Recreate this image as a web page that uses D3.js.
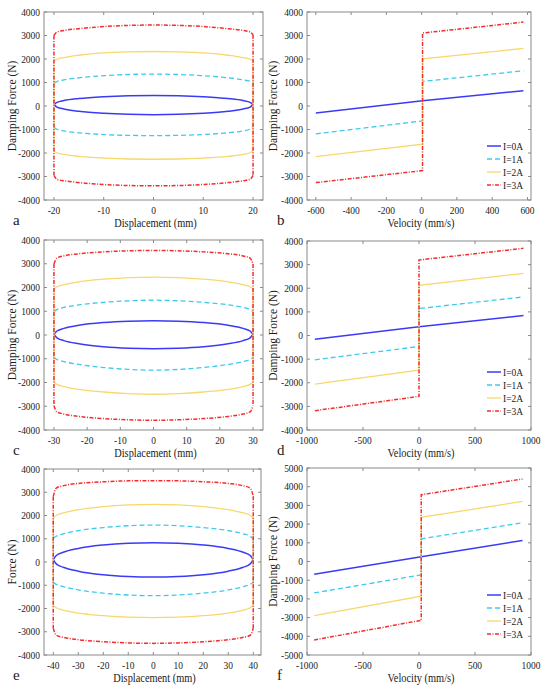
<!DOCTYPE html>
<html>
<head>
<meta charset="utf-8">
<script src="https://d3js.org/d3.v7.min.js"></script>
<style>
  body{margin:0;background:#fff;}
  svg text{font-family:"Liberation Serif","Times New Roman",serif;fill:#1a1a1a;}
</style>
</head>
<body>
<script>
// ---- data ----
var currents = ['I=0A', 'I=1A', 'I=2A', 'I=3A'];

var forceTicks = [-4000, -3000, -2000, -1000, 0, 1000, 2000, 3000, 4000];
var forceTicksF = [-5000, -4000, -3000, -2000, -1000, 0, 1000, 2000, 3000, 4000, 5000];
var dispTicksA = [-20, -10, 0, 10, 20];
var dispTicksC = [-30, -20, -10, 0, 10, 20, 30];
var dispTicksE = [-40, -30, -20, -10, 0, 10, 20, 30, 40];
var velTicksB = [-600, -400, -200, 0, 200, 400, 600];
var velTicksD = [-1000, -500, 0, 500, 1000];

// panel a : 20 mm amplitude
var dispA = [-20, -19.4, -18, -15, -10, -5, 0, 5, 10, 15, 18, 19.4, 20];
var upA = [
  [60, 155, 230, 318, 398, 438, 450, 438, 398, 318, 230, 155, 60],
  [975, 1040, 1110, 1200, 1290, 1340, 1357, 1340, 1290, 1200, 1110, 1050, 1000],
  [1925, 1990, 2060, 2160, 2260, 2305, 2320, 2305, 2260, 2160, 2060, 1990, 1925],
  [3000, 3150, 3215, 3290, 3380, 3430, 3445, 3430, 3380, 3290, 3215, 3150, 3030]
];
var lowA = [
  [60, -45, -127, -224, -312, -356, -370, -356, -312, -224, -127, -45, 60],
  [-920, -990, -1060, -1140, -1215, -1250, -1260, -1250, -1215, -1140, -1060, -980, -870],
  [-1930, -1990, -2060, -2140, -2215, -2255, -2265, -2255, -2215, -2140, -2060, -1990, -1890],
  [-2950, -3120, -3180, -3260, -3340, -3385, -3395, -3385, -3340, -3260, -3180, -3120, -2950]
];

// panel c : 30 mm amplitude
var dispC = [-30, -29.1, -27, -22.5, -15, -7.5, 0, 7.5, 15, 22.5, 27, 29.1, 30];
var upC = [
  [30, 169, 278, 407, 524, 582, 600, 582, 524, 407, 278, 169, 30],
  [985, 1070, 1160, 1270, 1375, 1440, 1465, 1440, 1375, 1270, 1160, 1070, 985],
  [1945, 2030, 2120, 2240, 2350, 2415, 2436, 2415, 2350, 2240, 2120, 2030, 1945],
  [2990, 3240, 3330, 3420, 3500, 3545, 3560, 3545, 3500, 3420, 3330, 3240, 2990]
];
var lowC = [
  [30, -118, -236, -373, -498, -560, -580, -560, -498, -373, -236, -118, 30],
  [-945, -1030, -1120, -1240, -1370, -1450, -1480, -1450, -1370, -1240, -1120, -1030, -945],
  [-1990, -2080, -2170, -2290, -2400, -2470, -2495, -2470, -2400, -2290, -2170, -2080, -1990],
  [-2980, -3240, -3330, -3430, -3520, -3570, -3590, -3570, -3520, -3430, -3330, -3240, -2980]
];

// panel e : 40 mm amplitude
var dispE = [-40, -38.8, -36, -30, -20, -10, 0, 10, 20, 30, 36, 38.8, 40];
var upE = [
  [100, 277, 418, 583, 732, 807, 830, 807, 732, 583, 418, 277, 100],
  [1018, 1110, 1210, 1350, 1480, 1560, 1590, 1560, 1480, 1350, 1210, 1110, 1000],
  [1907, 2000, 2110, 2250, 2380, 2455, 2480, 2455, 2380, 2250, 2110, 2000, 1880],
  [2810, 3180, 3280, 3380, 3450, 3490, 3500, 3490, 3450, 3380, 3280, 3180, 2830]
];
var lowE = [
  [100, -82, -227, -396, -550, -626, -650, -626, -550, -396, -227, -82, 100],
  [-875, -960, -1060, -1200, -1340, -1420, -1450, -1420, -1340, -1200, -1060, -960, -880],
  [-1880, -1970, -2070, -2200, -2310, -2375, -2395, -2375, -2310, -2200, -2070, -1970, -1860],
  [-2850, -3150, -3240, -3340, -3430, -3480, -3500, -3480, -3430, -3340, -3240, -3150, -2850]
];

// right column: velocity break points (start, jump, jump, end) and forces
var velB = [-600, 5, 5, 577];
var forceB = [
  [-300, 220, 220, 650],
  [-1186, -633, 1044, 1499],
  [-2152, -1626, 2010, 2450],
  [-3260, -2749, 3105, 3570]
];
var velD = [-930, 0, 0, 933];
var forceD = [
  [-155, 366, 366, 845],
  [-1028, -465, 1141, 1634],
  [-2056, -1465, 2127, 2634],
  [-3183, -2577, 3197, 3690]
];
var velF = [-936, 20, 20, 924];
var forceF = [
  [-679, 250, 250, 1125],
  [-1679, -714, 1214, 2071],
  [-2893, -1857, 2357, 3214],
  [-4196, -3143, 3571, 4411]
];

// ---- styles ----
var colors = ['#3b3bf6', '#3ccbef', '#f7d86c', '#f52c2c'];
var dashes = [null, '5,3', null, '4,1.5,1,1.5'];
var widths = [1.5, 1.3, 1.3, 1.5];

var svg = d3.select('body').append('svg')
  .attr('width', 550).attr('height', 685);

// text squeezed a little horizontally, like the figure
function label(g, x, y, str, size, anchor) {
  return g.append('text')
    .attr('transform', 'translate(' + x + ',' + y + ') scale(0.9,1)')
    .attr('text-anchor', anchor)
    .style('font-size', size + 'px')
    .text(str);
}

var panels = [
  {letter: 'a', box: [44, 12, 263, 200], xd: [-22, 22], yd: [-4000, 4000], xt: dispTicksA, yt: forceTicks,
   xl: 'Displacement (mm)', yl: 'Damping Force (N)', kind: 'loop', xs: dispA, up: upA, low: lowA},
  {letter: 'b', box: [307, 12, 531, 200], xd: [-650, 620], yd: [-4000, 4000], xt: velTicksB, yt: forceTicks,
   xl: 'Velocity (mm/s)', yl: 'Damping Force (N)', kind: 'vel', xs: velB, f: forceB, leg: 146},
  {letter: 'c', box: [44, 240, 263, 430], xd: [-33, 33], yd: [-4000, 4000], xt: dispTicksC, yt: forceTicks,
   xl: 'Displacement (mm)', yl: 'Damping Force (N)', kind: 'loop', xs: dispC, up: upC, low: lowC},
  {letter: 'd', box: [307, 241, 531, 430], xd: [-1000, 1000], yd: [-4000, 4000], xt: velTicksD, yt: forceTicks,
   xl: 'Velocity (mm/s)', yl: 'Damping Force (N)', kind: 'vel', xs: velD, f: forceD, leg: 372},
  {letter: 'e', box: [44, 469, 261, 655], xd: [-43.7, 43.1], yd: [-4000, 4000], xt: dispTicksE, yt: forceTicks,
   xl: 'Displacement (mm)', yl: 'Force (N)', kind: 'loop', xs: dispE, up: upE, low: lowE},
  {letter: 'f', box: [307, 468, 531, 655], xd: [-1000, 1000], yd: [-5000, 5000], xt: velTicksD, yt: forceTicksF,
   xl: 'Velocity (mm/s)', yl: 'Damping Force (N)', kind: 'vel', xs: velF, f: forceF, leg: 595}
];

panels.forEach(function(p) {
  var x0 = p.box[0], y0 = p.box[1], x1 = p.box[2], y1 = p.box[3];
  var x = d3.scaleLinear().domain(p.xd).range([x0, x1]);
  var y = d3.scaleLinear().domain(p.yd).range([y1, y0]);
  var g = svg.append('g');

  // curves
  var mono = d3.line().x(function(d) { return x(d[0]); }).y(function(d) { return y(d[1]); }).curve(d3.curveMonotoneX);
  var straight = d3.line().x(function(d) { return x(d[0]); }).y(function(d) { return y(d[1]); });

  currents.forEach(function(c, i) {
    var paths = [];
    if (p.kind === 'loop') {
      var n = p.xs.length - 1;
      paths.push(mono(p.xs.map(function(v, k) { return [v, p.up[i][k]]; })));
      paths.push(mono(p.xs.map(function(v, k) { return [v, p.low[i][k]]; })));
      paths.push(straight([[p.xs[0], p.up[i][0]], [p.xs[0], p.low[i][0]]]));
      paths.push(straight([[p.xs[n], p.up[i][n]], [p.xs[n], p.low[i][n]]]));
    } else {
      paths.push(straight(p.xs.map(function(v, k) { return [v, p.f[i][k]]; })));
    }
    paths.forEach(function(d) {
      g.append('path').attr('d', d)
        .attr('fill', 'none')
        .attr('stroke', colors[i])
        .attr('stroke-width', widths[i])
        .attr('stroke-dasharray', dashes[i]);
    });
  });

  // frame and ticks (box style, ticks inside)
  var axG = g.append('g').attr('stroke', '#8a8a8a').attr('stroke-width', 1).attr('fill', 'none');
  axG.append('rect').attr('x', x0).attr('y', y0).attr('width', x1 - x0).attr('height', y1 - y0);
  p.xt.forEach(function(t) {
    axG.append('line').attr('x1', x(t)).attr('x2', x(t)).attr('y1', y1).attr('y2', y1 - 3);
    axG.append('line').attr('x1', x(t)).attr('x2', x(t)).attr('y1', y0).attr('y2', y0 + 3);
  });
  p.yt.forEach(function(t) {
    axG.append('line').attr('x1', x0).attr('x2', x0 + 3).attr('y1', y(t)).attr('y2', y(t));
    axG.append('line').attr('x1', x1).attr('x2', x1 - 3).attr('y1', y(t)).attr('y2', y(t));
  });

  // tick labels
  p.xt.forEach(function(t) { label(g, x(t), y1 + 13.5, t, 10.5, 'middle'); });
  p.yt.forEach(function(t) { label(g, x0 - 4, y(t) + 3.5, t, 10.5, 'end'); });

  // axis titles
  label(g, (x0 + x1) / 2 + 2, y1 + 27, p.xl, 11.5, 'middle');
  var lx = p.kind === 'loop' ? 16 : 277;
  g.append('text')
    .attr('transform', 'translate(' + lx + ',' + (y0 + y1) / 2 + ') rotate(-90)')
    .attr('text-anchor', 'middle')
    .style('font-size', '11.5px')
    .text(p.yl);

  // panel letter
  g.append('text')
    .attr('x', p.kind === 'loop' ? 13 : 277)
    .attr('y', y1 + 25)
    .style('font-size', '15px')
    .text(p.letter);

  // legend
  if (p.leg) {
    currents.forEach(function(c, i) {
      var ly = p.leg + i * 13;
      g.append('line')
        .attr('x1', 487).attr('x2', 501).attr('y1', ly).attr('y2', ly)
        .attr('stroke', colors[i]).attr('stroke-width', widths[i])
        .attr('stroke-dasharray', dashes[i]);
      label(g, 503, ly + 3.5, c, 10.5, 'start');
    });
  }
});
</script>
</body>
</html>
